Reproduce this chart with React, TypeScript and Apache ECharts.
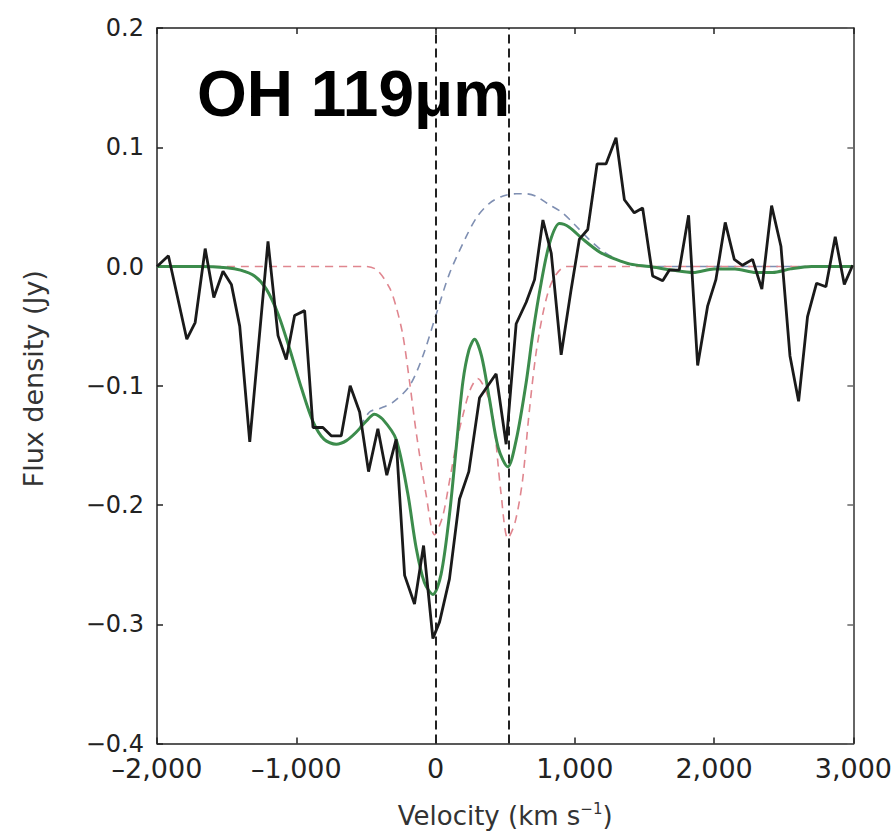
import React, { useEffect, useRef } from "react";
import * as echarts from "echarts";

// Observed spectrum (black)
const obsVel = [-2000, -1918, -1786, -1726, -1654, -1592, -1526, -1466, -1406, -1334, -1203, -1131, -1072, -1012, -940, -880, -809, -749, -677, -613, -545, -481, -414, -350, -283, -222, -151, -86, -19, 29, 100, 172, 239, 316, 435, 507, 579, 651, 711, 771, 831, 902, 974, 1033, 1093, 1160, 1224, 1296, 1356, 1427, 1487, 1559, 1631, 1679, 1750, 1817, 1882, 1954, 2013, 2080, 2145, 2204, 2276, 2343, 2413, 2480, 2545, 2607, 2671, 2736, 2803, 2870, 2935, 2995];
const obsFlux = [0.0, 0.009, -0.061, -0.047, 0.015, -0.026, -0.004, -0.015, -0.05, -0.147, 0.021, -0.058, -0.078, -0.041, -0.037, -0.135, -0.135, -0.142, -0.142, -0.1, -0.122, -0.172, -0.136, -0.175, -0.145, -0.259, -0.283, -0.234, -0.312, -0.298, -0.262, -0.195, -0.172, -0.11, -0.09, -0.149, -0.048, -0.03, -0.011, 0.039, 0.011, -0.074, -0.019, 0.023, 0.031, 0.086, 0.086, 0.108, 0.056, 0.045, 0.049, -0.008, -0.012, -0.003, -0.003, 0.043, -0.083, -0.033, -0.011, 0.037, 0.006, 0.001, 0.006, -0.019, 0.051, 0.017, -0.075, -0.113, -0.042, -0.014, -0.017, 0.025, -0.015, 0.001];

// Total fit (green)
const fitVel = [-2000, -1700, -1500, -1400, -1300, -1215, -1130, -1048, -960, -880, -800, -713, -640, -570, -500, -439, -380, -283, -200, -139, -80, -19, 40, 100, 150, 196, 240, 280, 330, 387, 450, 519, 580, 651, 700, 758, 820, 890, 960, 1057, 1180, 1296, 1400, 1536, 1700, 1850, 2000, 2150, 2300, 2420, 2550, 2700, 3000];
const fitFlux = [0, 0, -0.001, -0.003, -0.008, -0.019, -0.04, -0.069, -0.103, -0.13, -0.145, -0.149, -0.146, -0.139, -0.13, -0.124, -0.128, -0.145, -0.19, -0.236, -0.265, -0.275, -0.258, -0.208, -0.15, -0.097, -0.07, -0.061, -0.075, -0.111, -0.152, -0.168, -0.145, -0.097, -0.055, -0.014, 0.02, 0.036, 0.033, 0.023, 0.012, 0.006, 0.002, 0.0, -0.003, -0.005, -0.002, -0.002, -0.005, -0.005, -0.002, 0, 0];

// Narrow components (red dashed)
const redVel = [-2000, -500, -420, -330, -280, -234, -186, -139, -67, -7, 50, 100, 150, 196, 250, 303, 360, 411, 470, 519, 570, 624, 670, 720, 770, 818, 870, 937, 3000];
const redFlux = [0, 0, -0.003, -0.018, -0.035, -0.058, -0.097, -0.139, -0.192, -0.225, -0.21, -0.18, -0.148, -0.125, -0.103, -0.094, -0.104, -0.125, -0.19, -0.228, -0.215, -0.18, -0.125, -0.074, -0.04, -0.018, -0.006, 0, 0];

// Broad component (blue dashed)
const blueVel = [-2000, -1700, -1500, -1400, -1300, -1215, -1130, -1048, -960, -880, -800, -713, -640, -570, -474, -400, -307, -186, -91, 5, 100, 220, 300, 387, 480, 579, 650, 720, 800, 912, 1000, 1100, 1200, 1300, 1400, 1500, 3000];
const blueFlux = [0, 0, -0.001, -0.003, -0.008, -0.019, -0.04, -0.069, -0.103, -0.13, -0.145, -0.149, -0.146, -0.139, -0.122, -0.119, -0.114, -0.1, -0.075, -0.04, -0.006, 0.025, 0.042, 0.053, 0.059, 0.061, 0.061, 0.059, 0.053, 0.045, 0.035, 0.023, 0.013, 0.006, 0.002, 0, 0];

// Reference velocities (vertical dashed lines)
const refVel = [0, 525];

const xTicks = { min: -2000, max: 3000, step: 1000 };
const yTicks = { min: -0.4, max: 0.2, step: 0.1 };

const titleText = "OH 119\u03bcm";

const zip = (a: number[], b: number[]) => a.map((v, i) => [v, b[i]]);
const fmtX = (v: number) => (v < 0 ? "\u2013" : "") + Math.abs(v).toLocaleString("en-US");
const fmtY = (v: number) => {
  const r = Math.round(v * 10) / 10;
  return (r < 0 ? "\u2212" : "") + Math.abs(r).toFixed(1);
};

export default function App() {
  const ref = useRef<HTMLDivElement>(null);
  useEffect(() => {
    if (!ref.current) return;
    const chart = echarts.init(ref.current, undefined, { renderer: "svg" });
    const FONT = "DejaVu Sans";
    const axisLine = { show: true, onZero: false, lineStyle: { color: "#222", width: 1.5 } };
    const tick = { show: true, inside: true, length: 6, lineStyle: { color: "#222", width: 1.5 } };
    chart.setOption({
      animation: false,
      backgroundColor: "#fff",
      grid: { left: 157, top: 28, right: 41, bottom: 88, containLabel: false },
      xAxis: [
        {
          type: "value",
          position: "bottom",
          min: xTicks.min,
          max: xTicks.max,
          interval: xTicks.step,
          splitLine: { show: false },
          axisLine,
          axisTick: tick,
          axisLabel: { formatter: fmtX, fontFamily: FONT, fontSize: 27, lineHeight: 27, color: "#222", margin: 11 },
          name: "Velocity (km s{sup|\u22121})",
          nameLocation: "middle",
          nameGap: 58,
          nameTextStyle: {
            fontFamily: FONT,
            fontSize: 26,
            color: "#333",
            rich: { sup: { fontFamily: FONT, fontSize: 15, color: "#333", verticalAlign: "top", padding: [0, 0, 14, 0] } },
          },
        },
        {
          type: "value",
          position: "top",
          min: xTicks.min,
          max: xTicks.max,
          interval: xTicks.step,
          splitLine: { show: false },
          axisLine,
          axisTick: tick,
          axisLabel: { show: false },
        },
      ],
      yAxis: [
        {
          type: "value",
          position: "left",
          min: yTicks.min,
          max: yTicks.max,
          interval: yTicks.step,
          splitLine: { show: false },
          axisLine,
          axisTick: tick,
          axisLabel: { formatter: fmtY, fontFamily: FONT, fontSize: 24, lineHeight: 18, color: "#222", margin: 13 },
          name: "Flux density (Jy)",
          nameLocation: "middle",
          nameGap: 110,
          nameTextStyle: { fontFamily: FONT, fontSize: 27, color: "#333", padding: [0, 0, 0, 14] },
        },
        {
          type: "value",
          position: "right",
          min: yTicks.min,
          max: yTicks.max,
          interval: yTicks.step,
          splitLine: { show: false },
          axisLine: { show: true, onZero: false, lineStyle: { color: "#666", width: 2 } },
          axisTick: { show: true, inside: true, length: 6, lineStyle: { color: "#666", width: 1.5 } },
          axisLabel: { show: false },
        },
      ],
      graphic: [
        {
          type: "text",
          left: 197,
          top: 62,
          style: {
            text: titleText,
            fontFamily: "Liberation Sans",
            fontWeight: "bold",
            fontSize: 64,
            fill: "#000",
          },
          z: 100,
        },
      ],
      series: [
        {
          type: "line",
          data: zip(blueVel, blueFlux),
          showSymbol: false,
          smooth: 0.3,
          lineStyle: { color: "#7f8fb2", width: 1.6, type: [8, 6] },
          z: 2,
        },
        {
          type: "line",
          data: zip(redVel, redFlux),
          showSymbol: false,
          smooth: 0.3,
          lineStyle: { color: "#e0868f", width: 1.6, type: [8, 6] },
          z: 3,
        },
        {
          type: "line",
          data: zip(fitVel, fitFlux),
          showSymbol: false,
          smooth: 0.3,
          lineStyle: { color: "#3c8c4c", width: 3 },
          z: 4,
        },
        {
          type: "line",
          data: zip(obsVel, obsFlux),
          showSymbol: false,
          lineStyle: { color: "#1a1a1a", width: 2.8 },
          z: 5,
          markLine: {
            silent: true,
            symbol: "none",
            label: { show: false },
            lineStyle: { color: "#222", width: 2, type: [9, 5] },
            data: refVel.map((v) => ({ xAxis: v })),
          },
        },
      ],
    });
    return () => chart.dispose();
  }, []);
  return <div ref={ref} style={{ position: "fixed", left: 0, top: 0, width: 895, height: 834 }} />;
}
